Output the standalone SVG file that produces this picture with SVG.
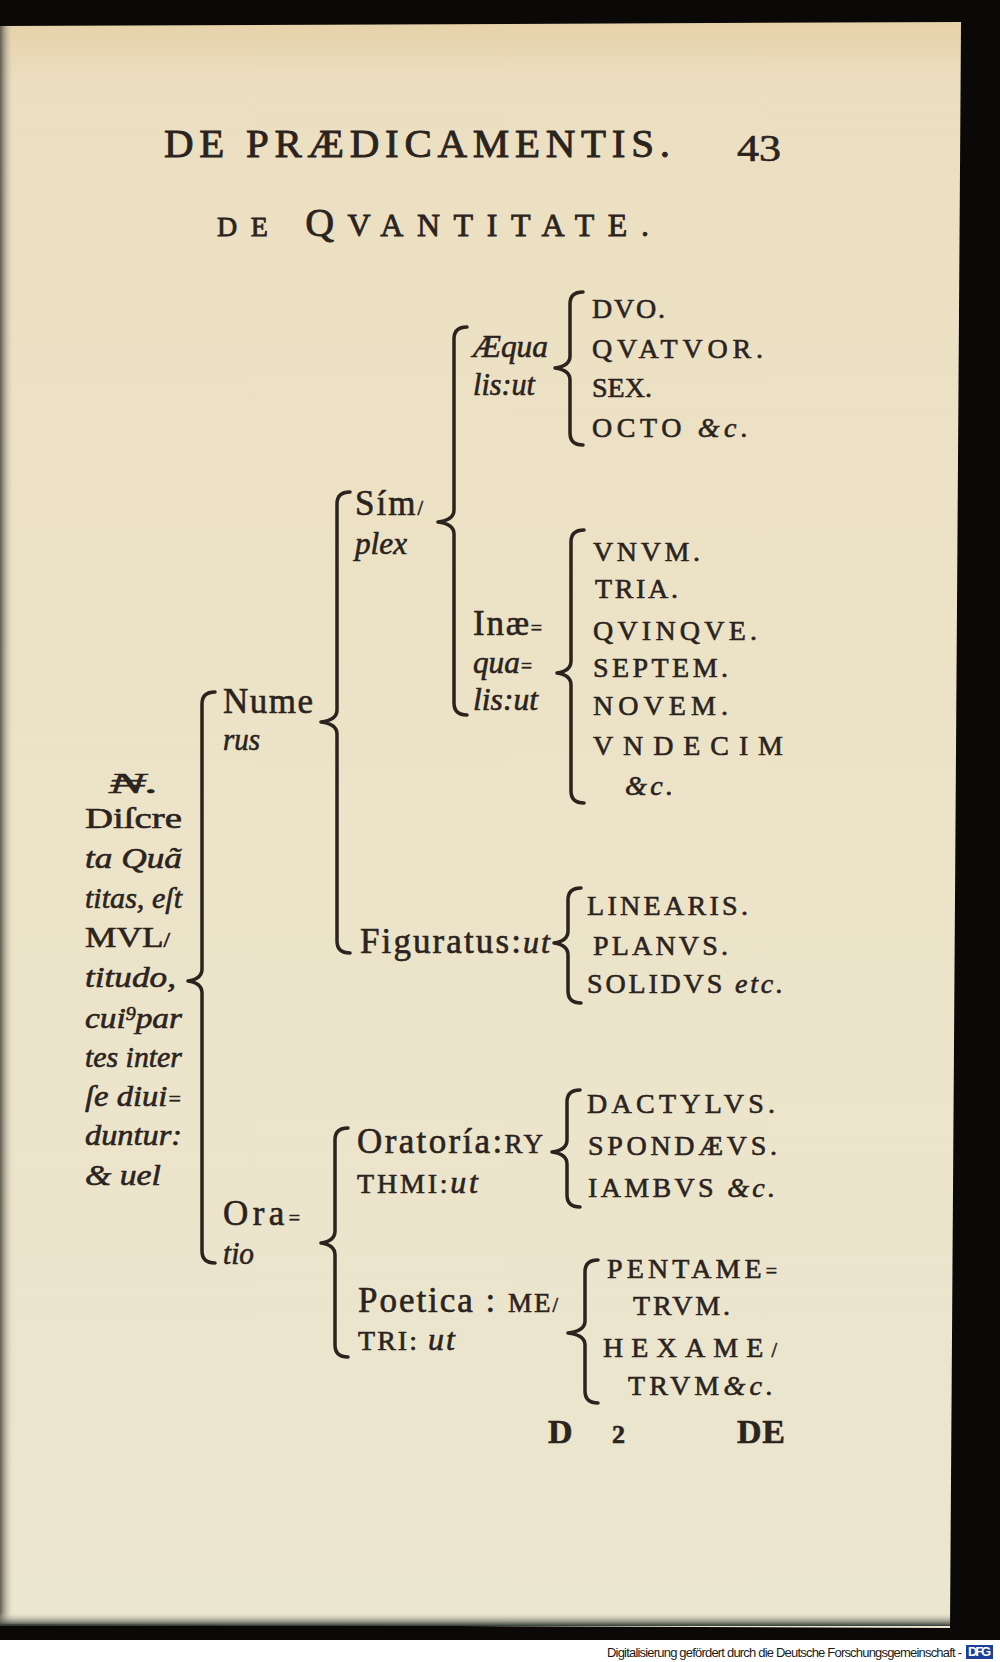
<svg xmlns="http://www.w3.org/2000/svg" width="1000" height="1662" viewBox="0 0 1000 1662">
<defs>
<linearGradient id="paperG" x1="0" y1="0" x2="0" y2="1">
<stop offset="0" stop-color="#e6d1a9"/>
<stop offset="0.04" stop-color="#ecdfc1"/>
<stop offset="0.5" stop-color="#ece3c8"/>
<stop offset="1" stop-color="#ebe6d0"/>
</linearGradient>
<linearGradient id="leftG" x1="0" y1="0" x2="1" y2="0">
<stop offset="0" stop-color="#5f5b50"/>
<stop offset="1" stop-color="#e9e0c6" stop-opacity="0"/>
</linearGradient>
<linearGradient id="botG" x1="0" y1="0" x2="0" y2="1">
<stop offset="0" stop-color="#ece7d2" stop-opacity="0"/>
<stop offset="1" stop-color="#2f3a33"/>
</linearGradient>
<style>
text{font-family:"Liberation Serif","DejaVu Serif",serif;fill:#2b231d;stroke:#2b231d;stroke-width:0.6}
.it{font-style:italic}
.cap{font-size:28px}
.lab{font-size:35px}
.ital{font-size:32px;font-style:italic}
.left{font-size:30px}
.sm{font-size:20px}
.br{fill:none;stroke:#2b231d;stroke-width:3.5;stroke-linecap:round;stroke-linejoin:round}
.dfg{font-family:"Liberation Sans",Arial,sans-serif;font-size:13px;fill:#1a1a1a;stroke:none}
</style>
</defs>

<g id="page">
<rect x="0" y="0" width="1000" height="1662" fill="#0b0908"/>
<rect x="0" y="1640" width="1000" height="22" fill="#ffffff"/>
<polygon points="0,26 961,22 950,1628 0,1624" fill="url(#paperG)"/>
<rect x="0" y="26" width="14" height="1598" fill="url(#leftG)"/>
<rect x="0" y="1612" width="950" height="14" fill="url(#botG)"/>
</g>

<g id="header">
<text x="164" y="157" font-size="41" style="stroke-width:0.9" textLength="506">DE PRÆDICAMENTIS.</text>
<text x="737" y="161" font-size="38" textLength="44" lengthAdjust="spacingAndGlyphs">43</text>
</g>
<g id="title">
<text x="217" y="236" font-size="40" style="stroke-width:0.8" textLength="432"><tspan font-size="28">DE</tspan> Q<tspan font-size="32">VANTITATE.</tspan></text>
</g>

<g id="connectors">
<path class="br" d="M583 292 Q570 292 570 304 L570 356 Q570 366 555 368 Q570 370 570 380 L570 433 Q570 445 583 445"/>
<path class="br" d="M467 327 Q454 327 454 339 L454 510 Q454 520 438 522 Q454 524 454 534 L454 703 Q454 715 467 715"/>
<path class="br" d="M584 530 Q571 530 571 542 L571 661 Q571 671 557 673 Q571 675 571 685 L571 791 Q571 803 584 803"/>
<path class="br" d="M350 492 Q337 492 337 504 L337 710 Q337 720 321 722 Q337 724 337 734 L337 941 Q337 953 350 953"/>
<path class="br" d="M581 888 Q568 888 568 900 L568 931 Q568 941 554 943 Q568 945 568 955 L568 991 Q568 1003 581 1003"/>
<path class="br" d="M215 692 Q202 692 202 704 L202 969 Q202 979 188 981 Q202 983 202 993 L202 1251 Q202 1263 215 1263"/>
<path class="br" d="M348 1128 Q335 1128 335 1140 L335 1231 Q335 1241 321 1243 Q335 1245 335 1255 L335 1345 Q335 1357 348 1357"/>
<path class="br" d="M580 1090 Q567 1090 567 1102 L567 1140 Q567 1150 552 1152 Q567 1154 567 1164 L567 1195 Q567 1207 580 1207"/>
<path class="br" d="M598 1260 Q585 1260 585 1272 L585 1321 Q585 1331 568 1333 Q585 1335 585 1345 L585 1391 Q585 1403 598 1403"/>
</g>

<g id="quantitas">
<text class="left it" x="109" y="793" textLength="50" lengthAdjust="spacingAndGlyphs">₦.</text>
<text class="left" x="85" y="828" textLength="97" lengthAdjust="spacingAndGlyphs">Diſcre</text>
<text class="left it" x="85" y="868" textLength="97" lengthAdjust="spacingAndGlyphs">ta Quã</text>
<text class="left it" x="85" y="908" textLength="97" lengthAdjust="spacingAndGlyphs">titas, eſt</text>
<text class="left" x="85" y="947" font-size="27" textLength="85" lengthAdjust="spacingAndGlyphs">MVL<tspan class="sm">/</tspan></text>
<text class="left it" x="85" y="987" textLength="91" lengthAdjust="spacingAndGlyphs">titudo,</text>
<text class="left it" x="85" y="1028" textLength="97" lengthAdjust="spacingAndGlyphs">cui<tspan font-size="18" dy="-8">9</tspan><tspan dy="8">par</tspan></text>
<text class="left it" x="85" y="1067" textLength="97" lengthAdjust="spacingAndGlyphs">tes inter</text>
<text class="left it" x="85" y="1106" textLength="97" lengthAdjust="spacingAndGlyphs">ſe diui<tspan class="sm">=</tspan></text>
<text class="left it" x="85" y="1145" textLength="97" lengthAdjust="spacingAndGlyphs">duntur:</text>
<text class="left it" x="85" y="1185" textLength="76" lengthAdjust="spacingAndGlyphs">&amp; uel</text>
</g>

<g id="numerus">
<text class="lab" x="223" y="713" textLength="90">Nume</text>
<text class="ital" x="223" y="750" textLength="37" lengthAdjust="spacingAndGlyphs">rus</text>
</g>

<g id="simplex">
<text class="lab" x="355" y="515" textLength="68">Sím<tspan class="sm">/</tspan></text>
<text class="ital" x="355" y="554" textLength="52" lengthAdjust="spacingAndGlyphs">plex</text>
</g>

<g id="aequalis">
<text class="ital" x="473" y="357" textLength="75" lengthAdjust="spacingAndGlyphs">Æqua</text>
<text class="ital" x="473" y="395" textLength="62" lengthAdjust="spacingAndGlyphs">lis:ut</text>
</g>

<g id="aequalis-items">
<text class="cap" x="592" y="318" textLength="73">DVO.</text>
<text class="cap" x="592" y="358" textLength="171">QVATVOR.</text>
<text class="cap" x="592" y="397" textLength="60">SEX.</text>
<text class="cap" x="592" y="437" textLength="156">OCTO <tspan class="it">&amp;c.</tspan></text>
</g>

<g id="inaequalis">
<text class="lab" x="473" y="635" textLength="69">Inæ<tspan class="sm">=</tspan></text>
<text class="ital" x="473" y="673" textLength="60" lengthAdjust="spacingAndGlyphs">qua<tspan class="sm">=</tspan></text>
<text class="ital" x="473" y="710" textLength="65" lengthAdjust="spacingAndGlyphs">lis:ut</text>
</g>

<g id="inaequalis-items">
<text class="cap" x="593" y="561" textLength="107">VNVM.</text>
<text class="cap" x="595" y="598" textLength="83">TRIA.</text>
<text class="cap" x="593" y="640" textLength="164">QVINQVE.</text>
<text class="cap" x="593" y="677" textLength="135">SEPTEM.</text>
<text class="cap" x="593" y="715" textLength="135">NOVEM.</text>
<text class="cap" x="593" y="755" textLength="190">VNDECIM</text>
<text class="cap it" x="625" y="795" textLength="48">&amp;c.</text>
</g>

<g id="figuratus">
<text class="lab" x="360" y="953" textLength="190">Figuratus:<tspan class="it" font-size="32">ut</tspan></text>
</g>

<g id="figuratus-items">
<text class="cap" x="587" y="915" textLength="161">LINEARIS.</text>
<text class="cap" x="593" y="955" textLength="135">PLANVS.</text>
<text class="cap" x="587" y="993" textLength="196">SOLIDVS <tspan class="it">etc.</tspan></text>
</g>

<g id="oratio">
<text class="lab" x="223" y="1225" textLength="77">Ora<tspan class="sm">=</tspan></text>
<text class="ital" x="223" y="1264" textLength="31" lengthAdjust="spacingAndGlyphs">tio</text>
</g>

<g id="oratoria">
<text class="lab" x="357" y="1153" textLength="186">Oratoría:<tspan font-size="27">RY</tspan></text>
<text class="cap" x="357" y="1193" textLength="121">THMI:<tspan class="it" font-size="32">ut</tspan></text>
</g>

<g id="oratoria-items">
<text class="cap" x="587" y="1113" textLength="188">DACTYLVS.</text>
<text class="cap" x="588" y="1155" textLength="189">SPONDÆVS.</text>
<text class="cap" x="588" y="1197" textLength="187">IAMBVS <tspan class="it">&amp;c.</tspan></text>
</g>

<g id="poetica">
<text class="lab" x="358" y="1312" textLength="200">Poetica : <tspan font-size="27">ME</tspan><tspan class="sm">/</tspan></text>
<text class="cap" x="358" y="1350" textLength="97">TRI: <tspan class="it" font-size="32">ut</tspan></text>
</g>

<g id="poetica-items">
<text class="cap" x="607" y="1278" textLength="170">PENTAME<tspan class="sm">=</tspan></text>
<text class="cap" x="633" y="1315" textLength="97">TRVM.</text>
<text class="cap" x="603" y="1357" textLength="174">HEXAME<tspan class="sm">/</tspan></text>
<text class="cap" x="628" y="1395" textLength="145">TRVM<tspan class="it">&amp;c.</tspan></text>
</g>

<g id="footer">
<text x="548" y="1443" font-size="34" font-weight="bold">D</text>
<text x="612" y="1443" font-size="26" font-weight="bold">2</text>
<text x="737" y="1443" font-size="34" font-weight="bold" textLength="48">DE</text>
</g>

<g id="dfg">
<text class="dfg" x="607" y="1657" textLength="355">Digitalisierung gefördert durch die Deutsche Forschungsgemeinschaft -</text>
<rect x="966" y="1645" width="27" height="14" fill="#1d3f9a"/>
<text class="dfg" x="968" y="1656" font-size="10" font-weight="bold" style="fill:#ffffff" textLength="23">DFG</text>
</g>
</svg>
